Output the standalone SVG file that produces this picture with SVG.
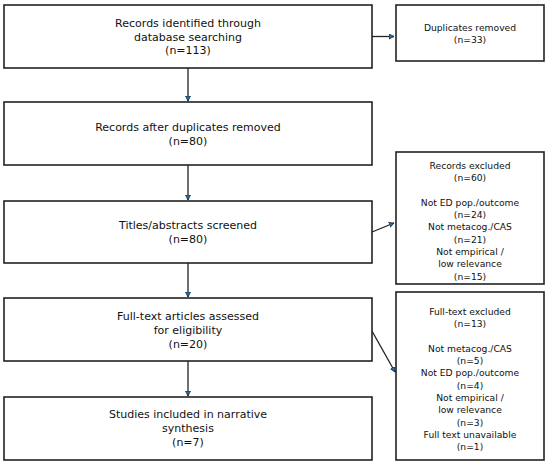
<svg xmlns="http://www.w3.org/2000/svg" width="550" height="466" viewBox="0 0 550 466">
<style>
.box{fill:#fff;stroke:#222;stroke-width:1.6}
.t{font-family:"DejaVu Sans",sans-serif;font-size:11px;fill:#111;text-anchor:middle;dominant-baseline:central}
.s{font-family:"DejaVu Sans",sans-serif;font-size:9.2px;fill:#111;text-anchor:middle;dominant-baseline:central}
.c{stroke:#222;stroke-width:1.3;fill:none;marker-end:url(#ah)}
</style>
<defs>
<marker id="ah" markerWidth="6" markerHeight="6" refX="5" refY="3" orient="auto" markerUnits="userSpaceOnUse">
<path d="M0,0.5 L5,3 L0,5.5 Z" fill="#1f6fb4" stroke="#1a2a3a" stroke-width="0.8"/>
</marker>
</defs>
<rect width="550" height="466" fill="#fff"/>
<g id="connectors">
<line class="c" x1="372" y1="36.5" x2="394" y2="36.5"/>
<line class="c" x1="188" y1="68" x2="188" y2="101"/>
<line class="c" x1="188" y1="165" x2="188" y2="200"/>
<line class="c" x1="188" y1="263" x2="188" y2="297"/>
<line class="c" x1="188" y1="361" x2="188" y2="396"/>
<line class="c" x1="372" y1="232" x2="394" y2="223"/>
<line class="c" x1="372" y1="331" x2="395" y2="372"/>
</g>
<g id="n1">
<rect class="box" x="4" y="5" width="368" height="63"/>
<text class="t" x="188" y="23">Records identified through</text>
<text class="t" x="188" y="37">database searching</text>
<text class="t" x="188" y="50.5">(n=113)</text>
</g>
<g id="n2">
<rect class="box" x="4" y="102" width="368" height="63"/>
<text class="t" x="188" y="127">Records after duplicates removed</text>
<text class="t" x="188" y="141">(n=80)</text>
</g>
<g id="n3">
<rect class="box" x="4" y="201" width="368" height="62"/>
<text class="t" x="188" y="225">Titles/abstracts screened</text>
<text class="t" x="188" y="239">(n=80)</text>
</g>
<g id="n4">
<rect class="box" x="4" y="298" width="368" height="63"/>
<text class="t" x="188" y="316">Full-text articles assessed</text>
<text class="t" x="188" y="330">for eligibility</text>
<text class="t" x="188" y="344">(n=20)</text>
</g>
<g id="n5">
<rect class="box" x="4" y="397" width="368" height="63"/>
<text class="t" x="188" y="414">Studies included in narrative</text>
<text class="t" x="188" y="428">synthesis</text>
<text class="t" x="188" y="442">(n=7)</text>
</g>
<g id="r1">
<rect class="box" x="396" y="5" width="148" height="56"/>
<text class="s" x="470" y="27">Duplicates removed</text>
<text class="s" x="470" y="39">(n=33)</text>
</g>
<g id="r2">
<rect class="box" x="396" y="152" width="148" height="132"/>
<text class="s" x="470" y="165.5">Records excluded</text>
<text class="s" x="470" y="177.8">(n=60)</text>
<text class="s" x="470" y="202.3">Not ED pop./outcome</text>
<text class="s" x="470" y="214.6">(n=24)</text>
<text class="s" x="470" y="226.9">Not metacog./CAS</text>
<text class="s" x="470" y="239.2">(n=21)</text>
<text class="s" x="470" y="251.5">Not empirical /</text>
<text class="s" x="470" y="263.8">low relevance</text>
<text class="s" x="470" y="276.1">(n=15)</text>
</g>
<g id="r3">
<rect class="box" x="396" y="292" width="148" height="168"/>
<text class="s" x="470" y="311.5">Full-text excluded</text>
<text class="s" x="470" y="323.8">(n=13)</text>
<text class="s" x="470" y="348.3">Not metacog./CAS</text>
<text class="s" x="470" y="360.6">(n=5)</text>
<text class="s" x="470" y="372.9">Not ED pop./outcome</text>
<text class="s" x="470" y="385.2">(n=4)</text>
<text class="s" x="470" y="397.5">Not empirical /</text>
<text class="s" x="470" y="409.8">low relevance</text>
<text class="s" x="470" y="422.1">(n=3)</text>
<text class="s" x="470" y="434.4">Full text unavailable</text>
<text class="s" x="470" y="446.7">(n=1)</text>
</g>
</svg>
